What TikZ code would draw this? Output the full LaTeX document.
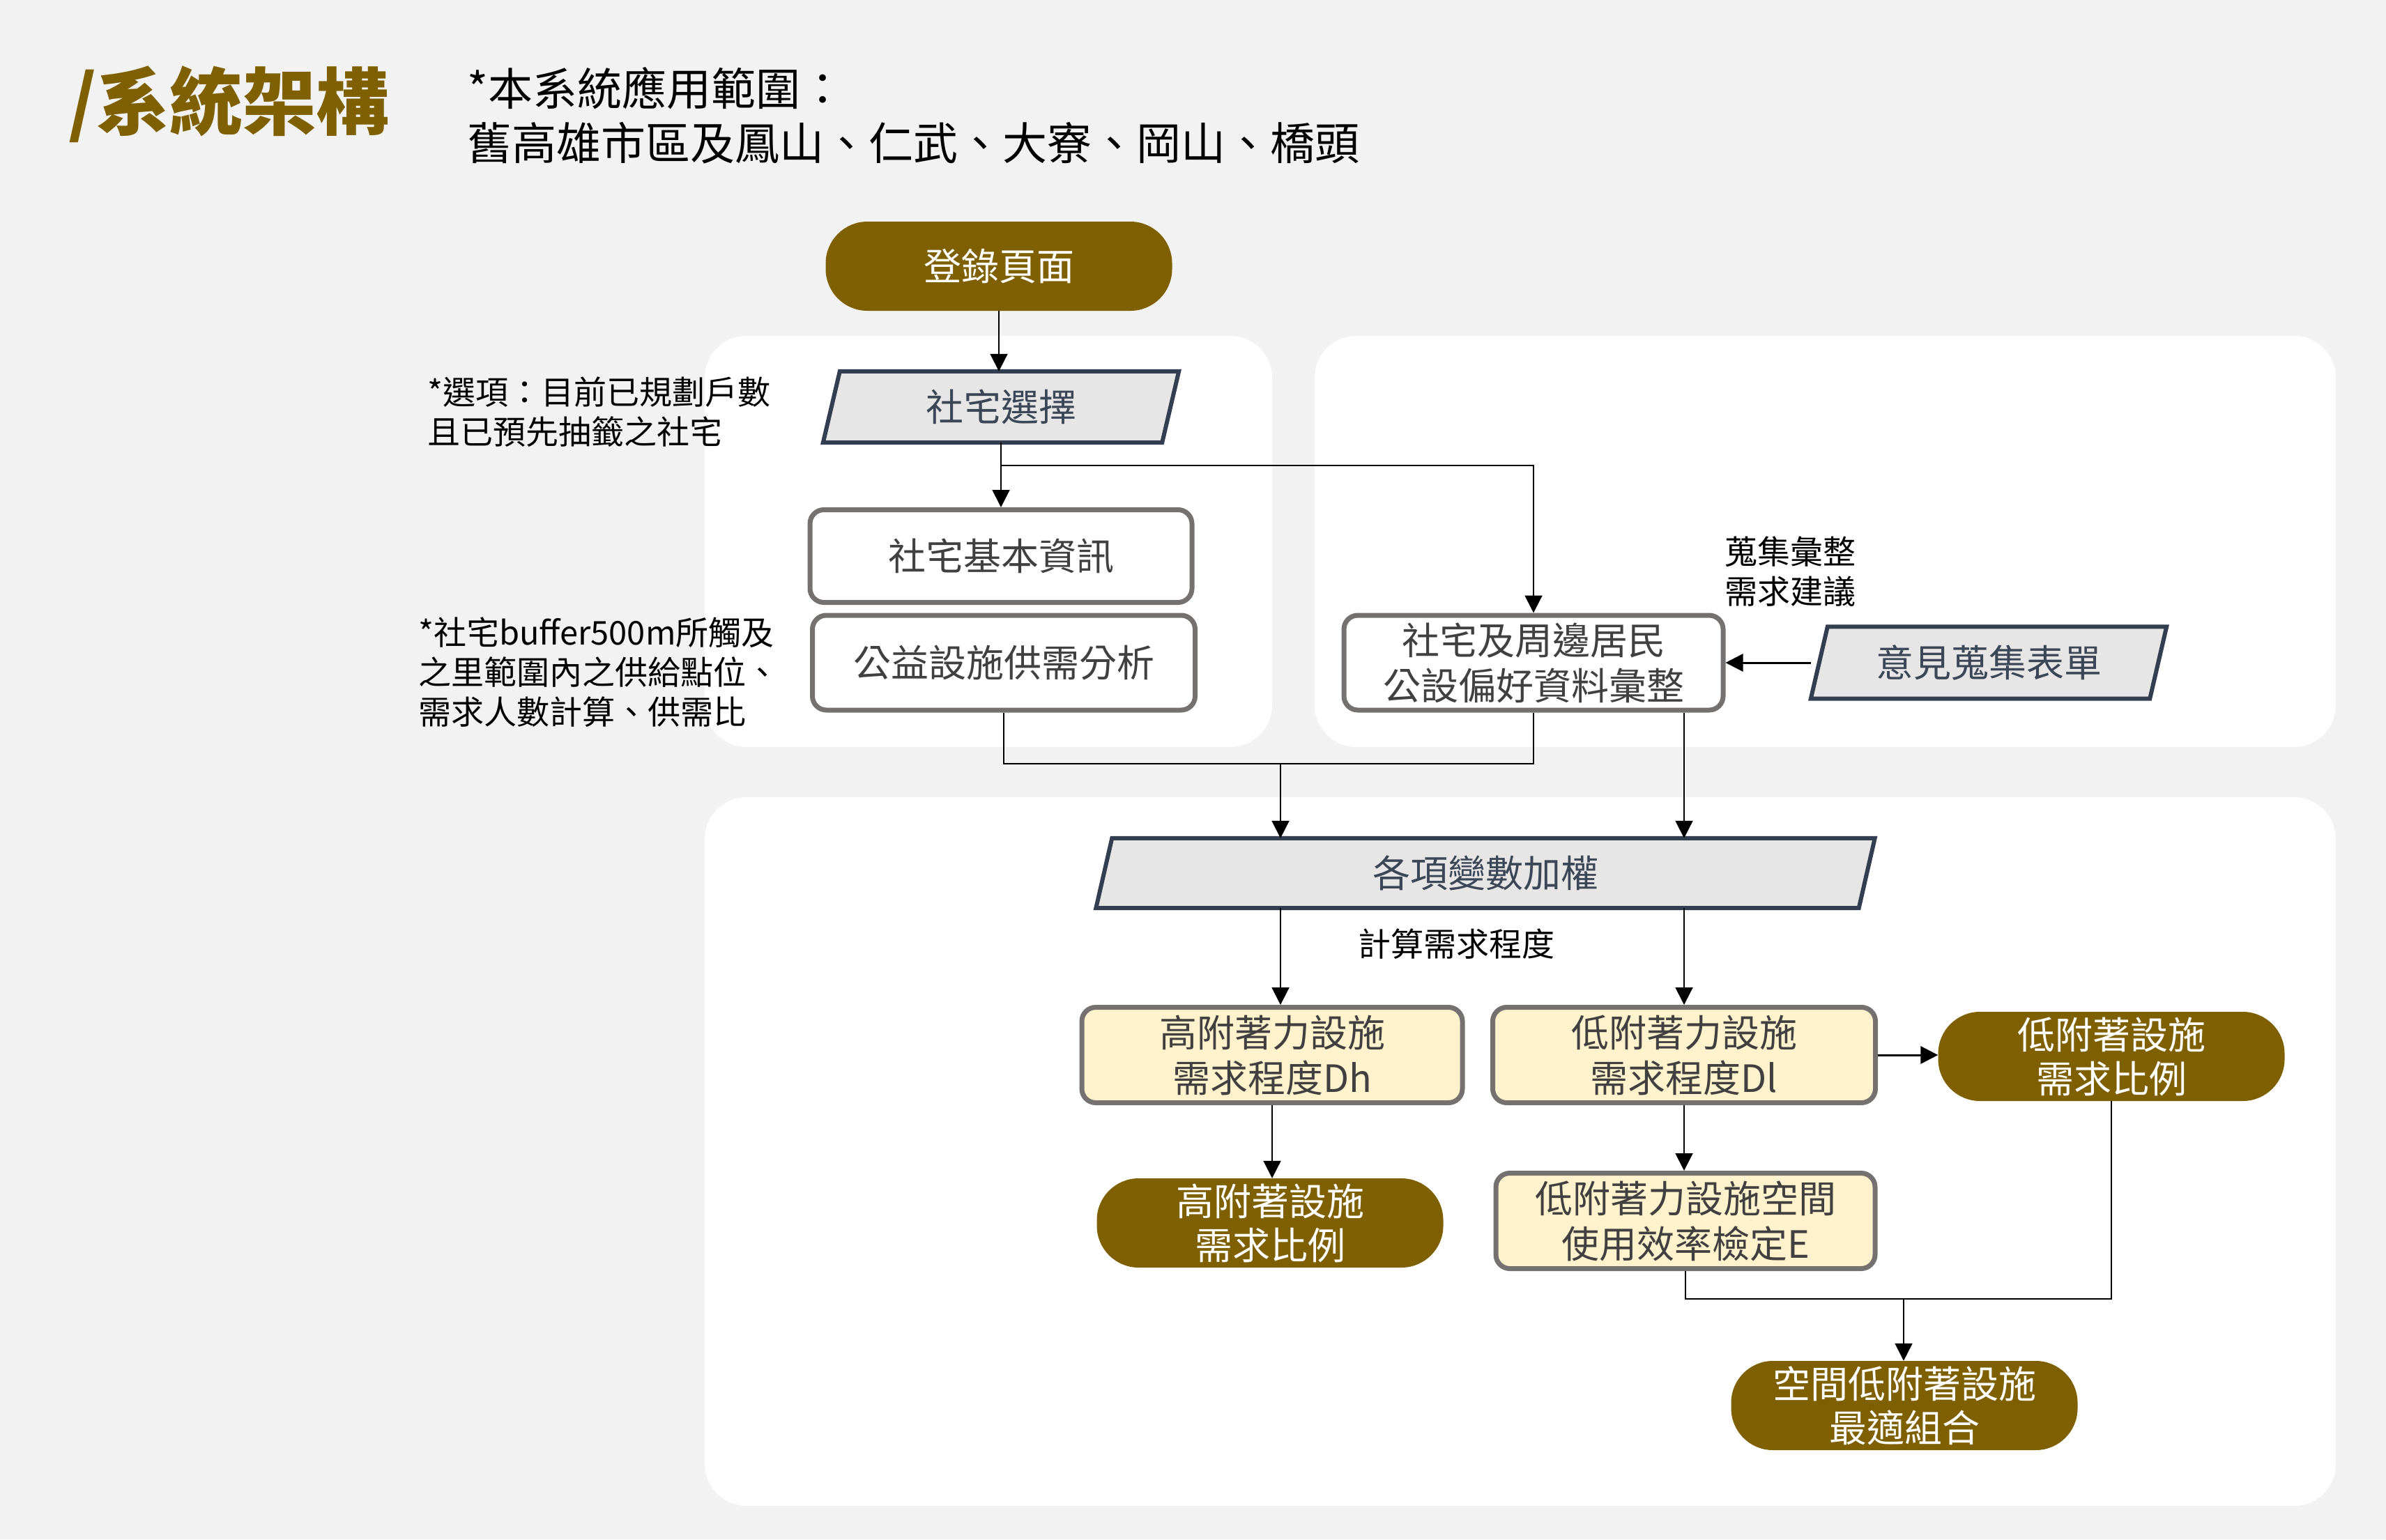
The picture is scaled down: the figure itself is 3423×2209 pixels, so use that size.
\documentclass[tikz,border=0pt]{standalone}
\usepackage{fontspec}
\setmainfont{Noto Sans CJK TC}
\usetikzlibrary{arrows.meta,calc}
\definecolor{termbrown}{HTML}{7F6000}
\definecolor{boxgray}{HTML}{767171}
\definecolor{boxtext}{HTML}{404040}
\definecolor{calcfill}{HTML}{FFF2CC}
\definecolor{parafill}{HTML}{E6E6E6}
\definecolor{paraline}{HTML}{333F50}
\definecolor{paratext}{HTML}{3B4656}
\definecolor{pagebg}{HTML}{F2F2F2}
\pgfdeclarelayer{bg}
\pgfsetlayers{bg,main}
\newcommand\myparallel[2]{%
  \filldraw[parashape] ([xshift=#2]#1.north west) -- (#1.north east) -- ([xshift=-#2]#1.south east) -- (#1.south west) -- cycle;}
\begin{document}
\begin{tikzpicture}[x=1pt,y=-1pt,
  every node/.style={inner sep=0pt},
  term/.style={fill=termbrown, text=white, rounded corners=60pt, minimum width=497pt, minimum height=128pt, align=center, font=\fontsize{54}{63}\selectfont},
  proc/.style={draw=boxgray, line width=7pt, fill=white, rounded corners=20pt, text=boxtext, align=center, minimum height=136pt, font=\fontsize{54}{65}\selectfont},
  calcbox/.style={proc, fill=calcfill, minimum height=137pt},
  paranode/.style={text=paratext, minimum height=102pt, font=\fontsize{54}{64}\selectfont},
  parashape/.style={fill=parafill, draw=paraline, line width=6pt, line join=miter},
  note/.style={anchor=west, align=left, text=black, font=\fontsize{47}{57}\selectfont},
  conn/.style={line width=2pt, draw=black},
  arr/.style={conn, -{Triangle[length=25pt,width=25pt]}},
]
\useasboundingbox (0,0) rectangle (3423,2209);

% title and scope
\node[anchor=west, text=termbrown, font=\fontsize{105}{110}\selectfont\bfseries] (title) at (98,150) {/系統架構};
\node[anchor=west, align=left, font=\fontsize{64}{78}\selectfont] (scope) at (670,166) {*本系統應用範圍：\\舊高雄市區及鳳山、仁武、大寮、岡山、橋頭};

% terminals
\node[term] (login) at (1433,382) {登錄頁面};
\node[term] (hiRatio) at (1822,1755) {高附著設施\\需求比例};
\node[term] (loRatio) at (3029,1516) {低附著設施\\需求比例};
\node[term] (best) at (2732,2017) {空間低附著設施\\最適組合};

% process boxes
\node[proc, minimum width=548pt, minimum height=133pt] (basic) at (1436,798) {社宅基本資訊};
\node[proc, minimum width=549pt] (supply) at (1440,951) {公益設施供需分析};
\node[proc, minimum width=544pt] (pref) at (2200,951) {社宅及周邊居民\\公設偏好資料彙整};

\node[calcbox, minimum width=546pt] (hiDeg) at (1825,1514) {高附著力設施\\需求程度Dh};
\node[calcbox, minimum width=549pt] (loDeg) at (2416,1514) {低附著力設施\\需求程度Dl};
\node[calcbox, minimum width=544pt] (eff) at (2418,1752) {低附著力設施空間\\使用效率檢定E};

% parallelogram nodes
\node[paranode, minimum width=510pt] (sel) at (1436,584) {社宅選擇};
\node[paranode, minimum width=1117pt, minimum height=100pt] (wts) at (2131,1253) {各項變數加權};
\node[paranode, minimum width=510pt, minimum height=103pt] (form) at (2853,951) {意見蒐集表單};

% notes
\node[note] (n1) at (613,591) {*選項：目前已規劃戶數\\且已預先抽籤之社宅};
\node[note] (n2) at (600,965) {*社宅buffer500m所觸及\\之里範圍內之供給點位、\\需求人數計算、供需比};
\node[note] (n3) at (2474,820) {蒐集彙整\\需求建議};
\node[note] (n4) at (1948,1355) {計算需求程度};

% background layer
\begin{pgfonlayer}{bg}
  \fill[pagebg] (0,0) rectangle (3423,2209);
  \fill[white, rounded corners=60pt] (1011,482) rectangle (1825,1072);
  \fill[white, rounded corners=60pt] (1886,482) rectangle (3351,1072);
  \fill[white, rounded corners=60pt] (1011,1144) rectangle (3351,2161);
  \myparallel{sel}{24pt}
  \myparallel{wts}{23pt}
  \myparallel{form}{24pt}
\end{pgfonlayer}

% connectors
\coordinate (j1) at (1837,1096);
\coordinate (j2) at (2731,1864);
\draw[arr] (login.south) -- (login.south |- sel.north);
\draw[arr] (sel.south) -- (sel.south |- basic.north);
\draw[arr] (sel.south) -- ++(0,33) -| (pref.north);
\draw[conn] (supply.south) |- (j1);
\draw[conn] (pref.south) |- (j1);
\draw[arr] (j1) -- (j1 |- wts.north);
\draw[arr] (pref.south -| loDeg.north) -- (wts.north -| loDeg.north);
\draw[arr] (wts.south -| j1) -- (hiDeg.north -| j1);
\draw[arr] (wts.south -| loDeg.north) -- (loDeg.north);
\draw[arr, line width=3pt] (form.west) -- (pref.east);
\draw[arr, line width=3pt] (loDeg.east) -- (loRatio.west |- loDeg.east);
\draw[arr] (hiDeg.south) -- (hiDeg.south |- hiRatio.north);
\draw[arr] (loDeg.south) -- (loDeg.south |- eff.north);
\draw[conn] (eff.south) |- (j2) -| (loRatio.south);
\draw[arr] (j2) -- (j2 |- best.north);
\end{tikzpicture}
\end{document}
